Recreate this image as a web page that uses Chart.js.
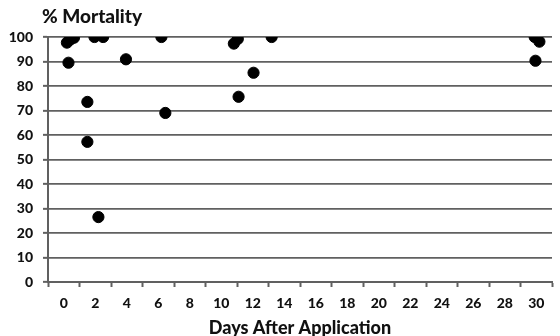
<!DOCTYPE html>
<html>
<head>
<meta charset="utf-8">
<script src="https://cdn.jsdelivr.net/npm/chart.js@4"></script>
<style>
  html, body { margin: 0; padding: 0; background: #fff; }
  #wrap { width: 560px; height: 336px; position: relative; }
</style>
</head>
<body>
<div id="wrap"><canvas id="c" width="560" height="336"></canvas></div>
<script>
// Days after application for each observation
const days = [0.2, 0.4, 0.65, 0.3, 1.95, 2.5, 1.5, 1.5, 2.2, 3.95, 6.2, 6.45, 10.8, 11.05, 11.1, 12.05, 13.2, 29.9, 30.2, 29.95];
// % mortality for each observation
const mortality = [97.7, 98.9, 99.7, 89.5, 100, 100, 73.5, 57.2, 26.5, 90.9, 100, 69, 97.3, 99.2, 75.6, 85.4, 100, 100, 98.1, 90.3];
// Axis tick labels
const xTickLabels = ['0','2','4','6','8','10','12','14','16','18','20','22','24','26','28','30'];
const yTickLabels = ['0','10','20','30','40','50','60','70','80','90','100'];
const yTitle = '% Mortality';
const xTitle = 'Days After Application';

const points = days.map((d, i) => ({ x: d, y: mortality[i] }));
const FONT = 'Lato, "Open Sans", sans-serif';
const GRID = '#606060';
const TEXT = '#111111';

const titlePlugin = {
  id: 'topTitle',
  afterDraw(chart) {
    const ctx = chart.ctx;
    ctx.save();
    ctx.font = '900 19px ' + FONT;
    ctx.fillStyle = TEXT;
    ctx.textBaseline = 'middle';
    ctx.textAlign = 'left';
    ctx.fillText(yTitle, chart.chartArea.left - 6, 17);
    ctx.restore();
  }
};

new Chart(document.getElementById('c'), {
  type: 'scatter',
  data: {
    datasets: [{
      data: points,
      backgroundColor: '#000',
      borderColor: '#000',
      pointRadius: 5.6,
      pointHoverRadius: 5.6
    }]
  },
  options: {
    responsive: false,
    animation: false,
    devicePixelRatio: 1,
    layout: { padding: { top: 37, right: 0, bottom: 0, left: 0 } },
    plugins: { legend: { display: false }, tooltip: { enabled: false } },
    scales: {
      x: {
        type: 'linear',
        min: -1,
        max: 31,
        afterBuildTicks(scale) {
          const t = [];
          for (let v = -1; v <= 31; v++) t.push({ value: v });
          scale.ticks = t;
        },
        afterFit(scale) { scale.height = 54; },
        border: { display: true, color: GRID, width: 2 },
        grid: {
          drawOnChartArea: false,
          drawTicks: true,
          tickLength: 5,
          tickWidth: 2,
          tickColor: (ctx) => (ctx.tick && Math.abs(ctx.tick.value % 2) === 1) ? GRID : 'rgba(0,0,0,0)'
        },
        ticks: {
          autoSkip: false,
          maxRotation: 0,
          padding: 8,
          color: TEXT,
          font: { family: FONT, size: 14, weight: '900' },
          callback: (v) => {
            const idx = xTickLabels.indexOf(String(v));
            return idx >= 0 ? xTickLabels[idx] : '';
          }
        },
        title: {
          display: true,
          text: xTitle,
          color: TEXT,
          font: { family: FONT, size: 18, weight: '900' },
          padding: { top: 2, bottom: -3 }
        }
      },
      y: {
        min: 0,
        max: 100,
        afterBuildTicks(scale) {
          scale.ticks = yTickLabels.map(l => ({ value: Number(l) }));
        },
        afterFit(scale) { scale.width = 48; },
        border: { display: true, color: GRID, width: 2 },
        grid: {
          color: GRID,
          lineWidth: 1.7,
          drawTicks: true,
          tickLength: 5,
          tickColor: GRID,
          tickWidth: 2
        },
        ticks: {
          padding: 10,
          color: TEXT,
          font: { family: FONT, size: 14, weight: '900' },
          callback: (v) => yTickLabels[yTickLabels.indexOf(String(v))]
        }
      }
    }
  },
  plugins: [titlePlugin]
});
</script>
</body>
</html>
